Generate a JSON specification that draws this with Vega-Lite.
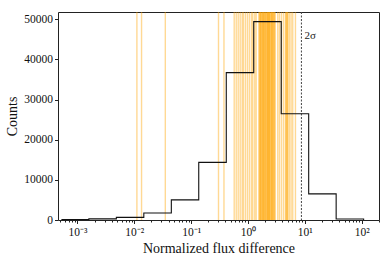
{
  "$schema": "https://vega.github.io/schema/vega-lite/v6.json",
  "width": 321,
  "height": 208,
  "autosize": {"type": "none"},
  "padding": {"left": 58, "top": 12, "right": 12, "bottom": 41},
  "background": "white",
  "config": {
    "view": {"stroke": "#222", "strokeWidth": 1},
    "font": "Liberation Serif",
    "axis": {
      "labelFont": "Liberation Serif",
      "titleFont": "Liberation Serif",
      "labelFontSize": 11.5,
      "titleFontSize": 14,
      "titleFontWeight": "normal",
      "labelColor": "#111",
      "titleColor": "#111",
      "tickColor": "#222",
      "domain": false,
      "grid": false
    }
  },
  "datasets": {
    "hist": [
      {"edge": 0.000521, "count": 120},
      {"edge": 0.001585, "count": 280},
      {"edge": 0.00483, "count": 650},
      {"edge": 0.01469, "count": 1750},
      {"edge": 0.0448, "count": 5000},
      {"edge": 0.136, "count": 14350},
      {"edge": 0.415, "count": 36700},
      {"edge": 1.262, "count": 49400},
      {"edge": 3.846, "count": 26450},
      {"edge": 11.7, "count": 6500},
      {"edge": 35.6, "count": 250},
      {"edge": 108.4, "count": 0}
    ],
    "flags": [
      {"value": 0.0111}, {"value": 0.0134}, {"value": 0.0351}, {"value": 0.303}, {"value": 0.378},
      {"value": 0.572}, {"value": 0.621}, {"value": 0.673}, {"value": 0.729}, {"value": 0.791},
      {"value": 0.834}, {"value": 0.904}, {"value": 0.98}, {"value": 1.062}, {"value": 1.152},
      {"value": 1.214}, {"value": 1.317}, {"value": 1.393},
      {"value": 1.549}, {"value": 1.603}, {"value": 1.63}, {"value": 1.66}, {"value": 1.69},
      {"value": 1.718}, {"value": 1.778}, {"value": 1.81}, {"value": 1.841}, {"value": 1.87},
      {"value": 1.905}, {"value": 1.95}, {"value": 1.995}, {"value": 2.03}, {"value": 2.065},
      {"value": 2.138}, {"value": 2.175}, {"value": 2.213}, {"value": 2.25}, {"value": 2.291},
      {"value": 2.33}, {"value": 2.371}, {"value": 2.41}, {"value": 2.455}, {"value": 2.541},
      {"value": 2.585}, {"value": 2.63}, {"value": 2.675}, {"value": 2.723}, {"value": 2.818},
      {"value": 2.865}, {"value": 2.917}, {"value": 3.02},
      {"value": 3.34}, {"value": 3.58}, {"value": 3.88}, {"value": 4.21}, {"value": 4.56}, {"value": 4.68},
      {"value": 4.81}, {"value": 4.93}, {"value": 5.05}, {"value": 5.36}, {"value": 5.74}, {"value": 6.13}, {"value": 6.84}
    ],
    "sigma": [{"value": 8.71, "count": 45800, "label": "2σ"}]
  },
  "resolve": {"scale": {"x": "shared", "y": "shared"}, "axis": {"x": "independent", "y": "independent"}},
  "layer": [
    {
      "data": {"name": "flags"},
      "mark": {"type": "rule", "color": "orange", "opacity": 0.42, "strokeWidth": 1.4},
      "encoding": {
        "x": {
          "field": "value", "type": "quantitative",
          "scale": {"type": "log", "domain": [0.000454, 202], "nice": false},
          "axis": {
            "orient": "bottom",
            "values": [0.001, 0.01, 0.1, 1, 10, 100],
            "labelExpr": "datum.value < 0.005 ? '10⁻³' : datum.value < 0.05 ? '10⁻²' : datum.value < 0.5 ? '10⁻¹' : datum.value < 5 ? '10⁰' : datum.value < 50 ? '10¹' : '10²'",
            "tickSize": 3.5,
            "labelPadding": 3,
            "title": "Normalized flux difference",
            "titlePadding": 3
          }
        }
      }
    },
    {
      "data": {"name": "sigma"},
      "mark": {"type": "rule", "color": "#444", "strokeWidth": 1, "strokeDash": [2, 1.5]},
      "encoding": {
        "x": {
          "field": "value", "type": "quantitative",
          "axis": {
            "orient": "bottom",
            "values": [0.0005, 0.0006, 0.0007, 0.0008, 0.0009, 0.002, 0.003, 0.004, 0.005, 0.006, 0.007, 0.008, 0.009, 0.02, 0.03, 0.04, 0.05, 0.06, 0.07, 0.08, 0.09, 0.2, 0.3, 0.4, 0.5, 0.6, 0.7, 0.8, 0.9, 2, 3, 4, 5, 6, 7, 8, 9, 20, 30, 40, 50, 60, 70, 80, 90, 200],
            "labels": false,
            "tickSize": 2,
            "title": null
          }
        }
      }
    },
    {
      "data": {"name": "sigma"},
      "mark": {"type": "text", "align": "left", "baseline": "middle", "dx": 3, "fontSize": 11, "font": "Liberation Serif", "color": "#222"},
      "encoding": {
        "x": {"field": "value", "type": "quantitative", "axis": null},
        "y": {"field": "count", "type": "quantitative", "axis": null},
        "text": {"field": "label"}
      }
    },
    {
      "data": {"name": "hist"},
      "mark": {"type": "line", "interpolate": "step-after", "color": "#111", "strokeWidth": 1.1},
      "encoding": {
        "x": {"field": "edge", "type": "quantitative", "axis": null},
        "y": {
          "field": "count", "type": "quantitative",
          "scale": {"domain": [0, 51800], "nice": false},
          "axis": {
            "orient": "left",
            "values": [0, 10000, 20000, 30000, 40000, 50000],
            "format": "d",
            "tickSize": 3.5,
            "labelPadding": 2,
            "title": "Counts",
            "titlePadding": 4
          }
        }
      }
    }
  ]
}
